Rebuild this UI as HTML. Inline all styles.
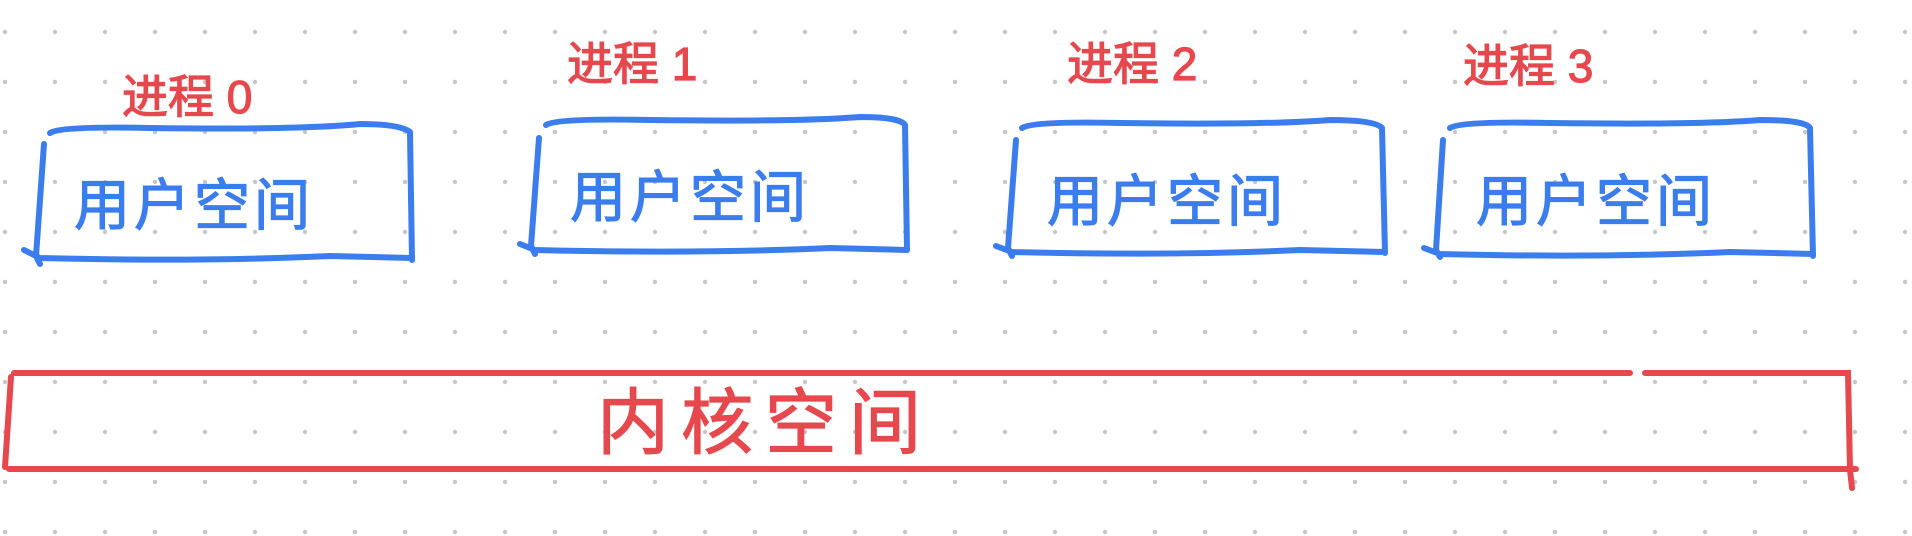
<!DOCTYPE html>
<html><head><meta charset="utf-8"><style>
html,body{margin:0;padding:0;background:#fff;}
svg{display:block;}
text{font-family:"Liberation Sans","Noto Sans CJK SC",sans-serif;font-weight:400;}
</style></head><body>
<svg width="1912" height="536" viewBox="0 0 1912 536" xmlns="http://www.w3.org/2000/svg">
<defs>
<pattern id="d" x="5" y="32" width="50" height="50" patternUnits="userSpaceOnUse">
<circle cx="0" cy="0" r="2.2" fill="#c6c6c6"/><circle cx="50" cy="0" r="2.2" fill="#c6c6c6"/><circle cx="0" cy="50" r="2.2" fill="#c6c6c6"/><circle cx="50" cy="50" r="2.2" fill="#c6c6c6"/>
</pattern>
</defs>
<rect x="0" y="0" width="1912" height="536" fill="url(#d)"/>
<g fill="none" stroke="#3b7ded" stroke-width="6" stroke-linecap="round" stroke-linejoin="round">
<path d="M50 133 Q60 126 150 128 Q300 130 360 124 Q400 124 410 132 L412 260 M44 144 L36 256 L40 264 M24 250 L40 258 Q200 262 330 256 L412 258"/>
<path d="M546 125 Q556 118 650 120 Q800 122 860 117 Q900 117 905 125 L907 250 M539 138 L531 246 L535 254 M520 244 L535 250 Q700 254 830 248 L907 250"/>
<path d="M1022 128 Q1032 121 1120 123 Q1270 125 1330 120 Q1375 120 1382 128 L1385 253 M1016 140 L1008 248 L1012 256 M996 246 L1012 252 Q1170 256 1300 250 L1385 252"/>
<path d="M1450 128 Q1460 121 1550 123 Q1700 125 1760 120 Q1805 120 1810 128 L1813 256 M1443 140 L1436 250 L1440 257 M1424 248 L1440 254 Q1600 258 1730 252 L1813 254"/>
</g>
<g fill="#3b7ded" stroke="#3b7ded" stroke-width="1.2" font-size="56">
<text x="74" y="225" letter-spacing="4">用户空间</text>
<text x="570" y="217" letter-spacing="4">用户空间</text>
<text x="1047" y="221" letter-spacing="4">用户空间</text>
<text x="1476" y="221" letter-spacing="4">用户空间</text>
</g>
<g fill="#e5484d" stroke="#e5484d" stroke-width="1.2" font-size="46">
<text x="122" y="113">进程 0</text>
<text x="567" y="80">进程 1</text>
<text x="1067" y="80">进程 2</text>
<text x="1463" y="82">进程 3</text>
</g>
<g fill="none" stroke="#e5484d" stroke-width="6" stroke-linecap="round">
<path d="M14 373 L1630 373 M1645 373 L1848 373 L1850 470 L1852 488 M11 377 L5 467 M9 469 L1856 469"/>
</g>
<text x="597" y="448" fill="#e5484d" stroke="#e5484d" stroke-width="1.2" font-size="72" letter-spacing="12">内核空间</text>
</svg>
</body></html>
